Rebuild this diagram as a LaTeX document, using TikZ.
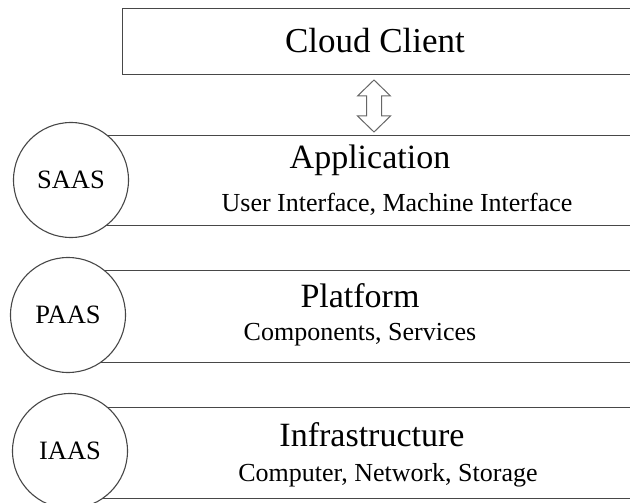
\documentclass[tikz,border=0pt]{standalone}
\usepackage{fontspec}
\setmainfont{Liberation Serif}
\begin{document}
\begin{tikzpicture}[x=1bp,y=-1bp,
  edge/.style={draw=black!72, line width=1.1bp},
  band/.style={edge, fill=white, rectangle, inner sep=0pt, anchor=north west},
  badge/.style={edge, fill=white, circle, minimum size=115bp, inner sep=0pt,
    font=\fontsize{26.5bp}{30bp}\selectfont},
  title/.style={anchor=base, inner sep=0pt, font=\fontsize{34bp}{40bp}\selectfont},
  sub/.style={anchor=base, inner sep=0pt, font=\fontsize{26bp}{30bp}\selectfont},
  twoway/.style={draw=black!60, line width=1bp, fill=white, line join=miter}]
\useasboundingbox (0,0) rectangle (630,503);
\clip (0,0) rectangle (630,503);

% layer bands (they run past the right edge)
\node[band, minimum width=520bp, minimum height=66bp] (client) at (122,8) {};
\node[band, minimum width=600bp, minimum height=90bp] (app) at (50,135) {};
\node[band, minimum width=600bp, minimum height=92bp] (plat) at (50,270) {};
\node[band, minimum width=600bp, minimum height=91bp] (infra) at (50,407) {};

% service-model badges on top of the bands
\node[badge] (saas) at (71,180) {SAAS};
\node[badge] (paas) at (68,315) {PAAS};
\node[badge] (iaas) at (70,451) {IAAS};

% band texts
\node[title, font=\fontsize{35bp}{40bp}\selectfont] (clientT) at (375,53) {Cloud Client};
\node[title] (appT) at (370,169) {Application};
\node[sub] (appS) at (397,212) {User Interface, Machine Interface};
\node[title] (platT) at (360,307) {Platform};
\node[sub] (platS) at (360,340) {Components, Services};
\node[title] (infT) at (372,446) {Infrastructure};
\node[sub] (infS) at (388,481) {Computer, Network, Storage};

% hollow two-way arrow between client and application
\coordinate (dbl) at (374,106);
\draw[twoway] (dbl) ++(0,-26) -- ++(16.5,16) -- ++(-9,0) -- ++(0,20) -- ++(9,0)
  -- ++(-16.5,16) -- ++(-16.5,-16) -- ++(9,0) -- ++(0,-20) -- ++(-9,0) -- cycle;
\end{tikzpicture}
\end{document}
